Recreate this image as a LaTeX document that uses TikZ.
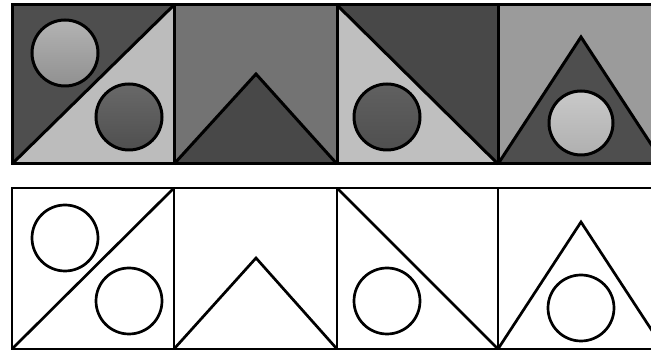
\documentclass[tikz,border=0pt]{standalone}
\definecolor{gDark}{RGB}{78,78,78}
\definecolor{gDarker}{RGB}{72,72,72}
\definecolor{gMid}{RGB}{115,115,115}
\definecolor{gMidLight}{RGB}{155,155,155}
\definecolor{gLight}{RGB}{188,188,188}
\definecolor{gCircLight}{RGB}{160,160,160}
\definecolor{gCircDark}{RGB}{88,88,88}
\definecolor{gCircPale}{RGB}{195,195,195}
\tikzset{
  edge/.style={line width=3pt, line join=miter, black},
  thin edge/.style={line width=2.7pt, line join=miter, black}
}
\begin{document}
\begin{tikzpicture}[x=1pt,y=-1pt]
\useasboundingbox (0,0) rectangle (651,352);
\clip (0,0) rectangle (651,352);
\fill[white] (0,0) rectangle (651,352);
% ---------- top row fills ----------
% panel 1
\fill[gDark] (12,5) -- (174,5) -- (12,164) -- cycle;
\fill[gLight] (174,5) -- (174,164) -- (12,164) -- cycle;
\shade[top color=gCircLight!80!white, bottom color=gCircLight!90!black] (65,53) circle[radius=33];
\shade[top color=gCircDark!90!white, bottom color=gCircDark!90!black] (129,117) circle[radius=33];
% panel 2
\fill[gMid] (174,5) rectangle (337,164);
\fill[gDarker] (174,164) -- (256,74) -- (337,164) -- cycle;
% panel 3
\fill[gLight!95!white] (337,5) -- (337,164) -- (498,164) -- cycle;
\fill[gDarker] (337,5) -- (498,5) -- (498,164) -- cycle;
\shade[top color=gCircDark!95!white, bottom color=gCircDark!90!black] (387,117) circle[radius=33];
% panel 4
\fill[gMidLight] (498,5) rectangle (664,164);
\fill[gDark] (498,164) -- (581,37) -- (664,164) -- cycle;
\shade[top color=gCircPale!90!white, bottom color=gCircPale!90!black] (581,123) circle[radius=32];
% ---------- top row lines ----------
\draw[edge] (12,5) rectangle (670,164);
\draw[edge] (174,5) -- (174,164) (337,5) -- (337,164) (498,5) -- (498,164);
\draw[edge] (12,164) -- (174,5);
\draw[edge] (65,53) circle[radius=33] (129,117) circle[radius=33];
\draw[edge] (174,164) -- (256,74) -- (337,164);
\draw[edge] (337,5) -- (498,164);
\draw[edge] (387,117) circle[radius=33];
\draw[edge] (498,164) -- (581,37) -- (664,164);
\draw[edge] (581,123) circle[radius=32];
% ---------- bottom row lines ----------
\draw[thin edge] (12,188) rectangle (670,349);
\draw[thin edge] (174,188) -- (174,349) (337,188) -- (337,349) (498,188) -- (498,349);
\draw[thin edge] (12,349) -- (174,188);
\draw[thin edge] (65,238) circle[radius=33] (129,301) circle[radius=33];
\draw[thin edge] (174,349) -- (256,258) -- (337,349);
\draw[thin edge] (337,188) -- (498,349);
\draw[thin edge] (387,301) circle[radius=33];
\draw[thin edge] (498,349) -- (581,222) -- (664,349);
\draw[thin edge] (581,308) circle[radius=33];
\end{tikzpicture}
\end{document}
